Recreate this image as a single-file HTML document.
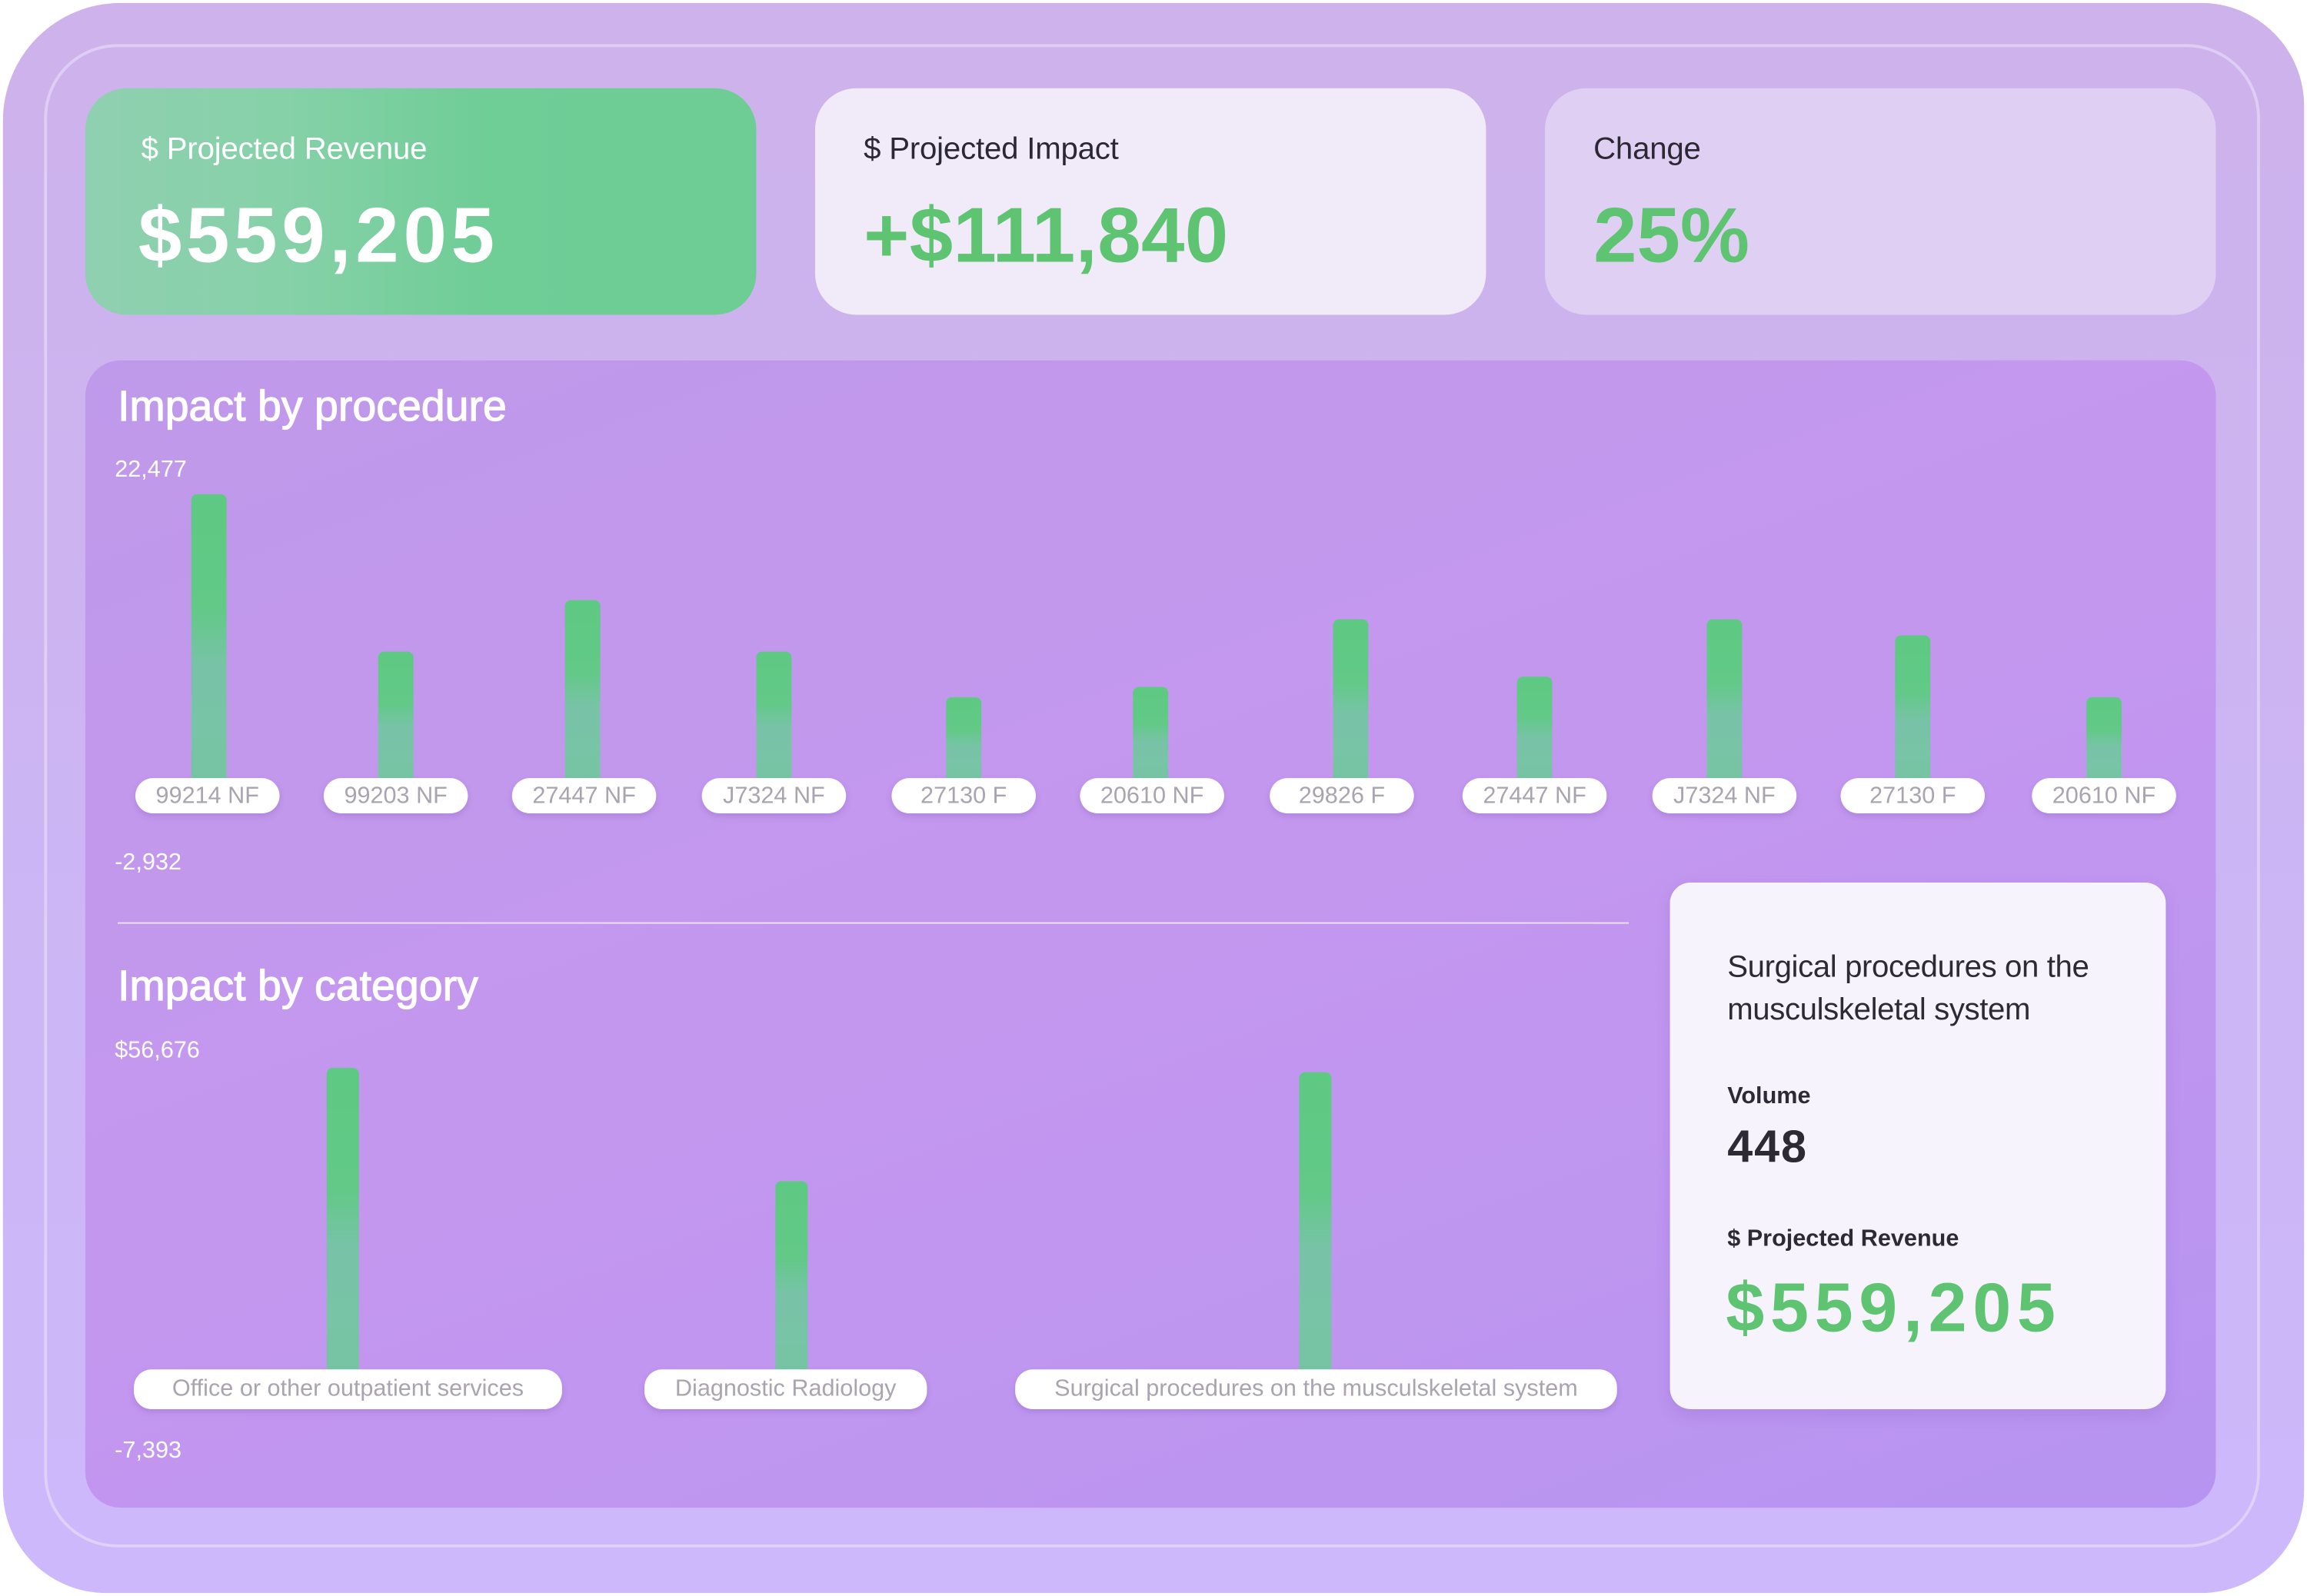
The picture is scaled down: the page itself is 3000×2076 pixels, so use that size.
<!DOCTYPE html>
<html><head><meta charset="utf-8"><style>
html,body{margin:0;padding:0;background:#fff;width:3000px;height:2075px;overflow:hidden}
#s{position:absolute;left:0;top:0;width:1568px;height:1085px;transform:scale(1.9133);transform-origin:0 0;font-family:"Liberation Sans",sans-serif}
.a{position:absolute}
.outer{left:2px;top:2px;width:1564px;height:1081px;border-radius:80px 70px 70px 70px;background:linear-gradient(#cdb2eb,#ccb8fb)}
.inner{left:30px;top:30px;width:1502px;height:1018px;border-radius:50px;border:2px solid rgba(235,225,250,.6)}
.card{top:60px;width:456px;height:154px;border-radius:28px}
.lbl{font-size:21px;left:38px;top:30px;letter-spacing:-0.1px}
.val{font-size:53px;font-weight:bold;left:36px;top:70px;letter-spacing:1.5px}
.main{left:58px;top:245px;width:1448px;height:780px;border-radius:24px;background:linear-gradient(160deg,#bf99ea,#c497ef 50%,#b794f1)}
.t{color:#fff;font-size:29px;font-weight:normal;letter-spacing:0;-webkit-text-stroke:0.6px #fff}
.ax{color:#fff;font-size:16px}
.bar{width:24px;border-radius:4px 4px 0 0;background:linear-gradient(#5ec982 0,#62c987 40%,#78c3a8 60%,#77c4a4 100%)}
.pill{height:24px;background:#fff;border-radius:12px;color:#a9a4b0;font-size:16px;text-align:center;line-height:25px;box-shadow:0 2px 4px rgba(120,80,170,.25)}
</style></head><body><div id="s">
<div class="a outer"></div>
<div class="a inner"></div>
<div class="a card" style="left:58px;background:linear-gradient(90deg,#8fd0b1,#86d1a8 30%,#6fcd96 60%,#6dcd94)">
 <div class="a lbl" style="color:#fff">$ Projected Revenue</div>
 <div class="a val" style="color:#fff;letter-spacing:3px">$559,205</div></div>
<div class="a card" style="left:554px;background:#f1eaf9">
 <div class="a lbl" style="color:#2b2833;left:33px">$ Projected Impact</div>
 <div class="a val" style="color:#5ec472;left:33px;letter-spacing:0.2px">+$111,840</div></div>
<div class="a card" style="left:1050px;background:#dfd0f3">
 <div class="a lbl" style="color:#2b2833;left:33px">Change</div>
 <div class="a val" style="color:#5ec472;left:33px;letter-spacing:0">25%</div></div>
<div class="a main"></div>
<div class="a t" style="left:80px;top:261px">Impact by procedure</div>
<div class="a ax" style="left:78px;top:311px">22,477</div>
<div class="a ax" style="left:78px;top:578px">-2,932</div>
<div class="a bar" style="left:130px;top:336px;height:194px"></div>
<div class="a bar" style="left:257px;top:443px;height:87px"></div>
<div class="a bar" style="left:384px;top:408px;height:122px"></div>
<div class="a bar" style="left:514px;top:443px;height:87px"></div>
<div class="a bar" style="left:643px;top:474px;height:56px"></div>
<div class="a bar" style="left:770px;top:467px;height:63px"></div>
<div class="a bar" style="left:906px;top:421px;height:109px"></div>
<div class="a bar" style="left:1031px;top:460px;height:70px"></div>
<div class="a bar" style="left:1160px;top:421px;height:109px"></div>
<div class="a bar" style="left:1288px;top:432px;height:98px"></div>
<div class="a bar" style="left:1418px;top:474px;height:56px"></div>
<div class="a pill" style="left:92px;top:529px;width:98px">99214 NF</div>
<div class="a pill" style="left:220px;top:529px;width:98px">99203 NF</div>
<div class="a pill" style="left:348px;top:529px;width:98px">27447 NF</div>
<div class="a pill" style="left:477px;top:529px;width:98px">J7324 NF</div>
<div class="a pill" style="left:606px;top:529px;width:98px">27130 F</div>
<div class="a pill" style="left:734px;top:529px;width:98px">20610 NF</div>
<div class="a pill" style="left:863px;top:529px;width:98px">29826 F</div>
<div class="a pill" style="left:994px;top:529px;width:98px">27447 NF</div>
<div class="a pill" style="left:1123px;top:529px;width:98px">J7324 NF</div>
<div class="a pill" style="left:1251px;top:529px;width:98px">27130 F</div>
<div class="a pill" style="left:1381px;top:529px;width:98px">20610 NF</div>
<div class="a" style="left:80px;top:627px;width:1027px;height:1px;background:rgba(255,255,255,.7)"></div>
<div class="a t" style="left:80px;top:655px">Impact by category</div>
<div class="a ax" style="left:78px;top:706px">$56,676</div>
<div class="a ax" style="left:78px;top:978px">-7,393</div>
<div class="a bar" style="left:222px;top:726px;height:206px;width:22px"></div>
<div class="a bar" style="left:527px;top:803px;height:129px;width:22px"></div>
<div class="a bar" style="left:883px;top:729px;height:203px;width:22px"></div>
<div class="a pill" style="left:91px;top:931px;width:291px;height:27px;line-height:27px">Office or other outpatient services</div>
<div class="a pill" style="left:438px;top:931px;width:192px;height:27px;line-height:27px">Diagnostic Radiology</div>
<div class="a pill" style="left:690px;top:931px;width:409px;height:27px;line-height:27px">Surgical procedures on the musculskeletal system</div>
<div class="a" style="left:1135px;top:600px;width:337px;height:358px;border-radius:14px;background:#f7f3fc;box-shadow:0 4px 10px rgba(120,80,170,.2)">
 <div class="a" style="left:39px;top:43px;font-size:21px;line-height:29px;color:#2d2a35;letter-spacing:-0.2px">Surgical procedures on the<br>musculskeletal system</div>
 <div class="a" style="left:39px;top:137px;font-size:16px;font-weight:bold;color:#2d2a35">Volume</div>
 <div class="a" style="left:39px;top:162px;font-size:31px;font-weight:bold;color:#2d2a35;letter-spacing:1px">448</div>
 <div class="a" style="left:39px;top:234px;font-size:16px;font-weight:bold;color:#2d2a35">$ Projected Revenue</div>
 <div class="a" style="left:38px;top:261px;font-size:47px;font-weight:bold;color:#5ec472;letter-spacing:4px">$559,205</div>
</div>
</div></body></html>
